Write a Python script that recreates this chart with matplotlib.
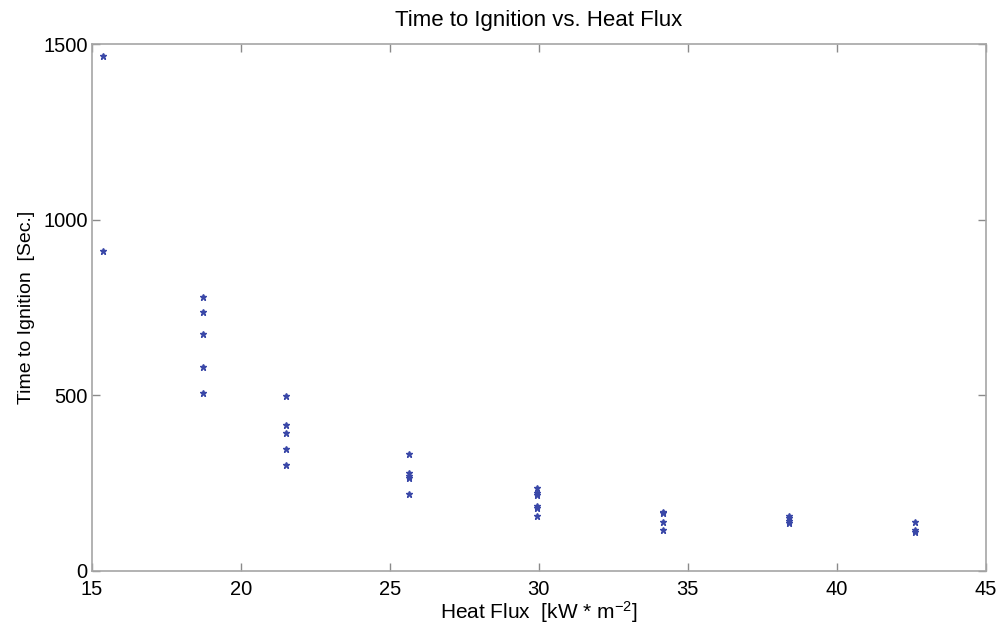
import numpy as np
import matplotlib
matplotlib.use('Agg')
import matplotlib.pyplot as plt

plt.rcParams['font.family'] = ['Liberation Sans', 'DejaVu Sans']
plt.rcParams['mathtext.default'] = 'regular'

# Heat flux levels (kW/m^2) and the measured ignition times at each level
flux_levels = [15.38, 18.75, 21.52, 25.65, 29.95, 34.17, 38.4, 42.62]
t_15 = [1467, 911]
t_18 = [779, 738, 675, 580, 505]
t_21 = [498, 416, 393, 346, 301]
t_25 = [333, 277, 271, 263, 219]
t_30 = [235, 222, 216, 184, 178, 156]
t_34 = [168, 164, 140, 116]
t_38 = [156, 149, 143, 136]
t_42 = [140, 116, 111]

grupos = [t_15, t_18, t_21, t_25, t_30, t_34, t_38, t_42]
x = []
y = []
for fx, tempos in zip(flux_levels, grupos):
    for t in tempos:
        x.append(fx)
        y.append(t)

fig = plt.figure(figsize=(10.03, 6.37), dpi=100)
ax = fig.add_axes([0.0914, 0.1041, 0.8914, 0.8264])

ax.plot(x, y, linestyle='none', marker='*', markersize=5, color='#3a48a8')

ax.set_xlim(15, 45)
ax.set_ylim(0, 1500)
ax.set_xticks(np.arange(15, 46, 5))
ax.set_yticks([0, 500, 1000, 1500])

for s in ax.spines.values():
    s.set_color('#a6a6a6')
    s.set_linewidth(1.2)
ax.tick_params(direction='in', length=6, width=1, color='#8a8a8a',
               top=True, right=True, labelsize=14.5)
ax.tick_params(axis='x', pad=7)
ax.tick_params(axis='y', pad=3)

ax.set_title('Time to Ignition vs. Heat Flux', fontsize=16, pad=13)
ax.set_xlabel('Heat Flux  [kW * m$^{-2}$]', fontsize=15, labelpad=0)
ax.set_ylabel('Time to Ignition  [Sec.]', fontsize=14, labelpad=6)

fig.savefig('out.png', dpi=100)
